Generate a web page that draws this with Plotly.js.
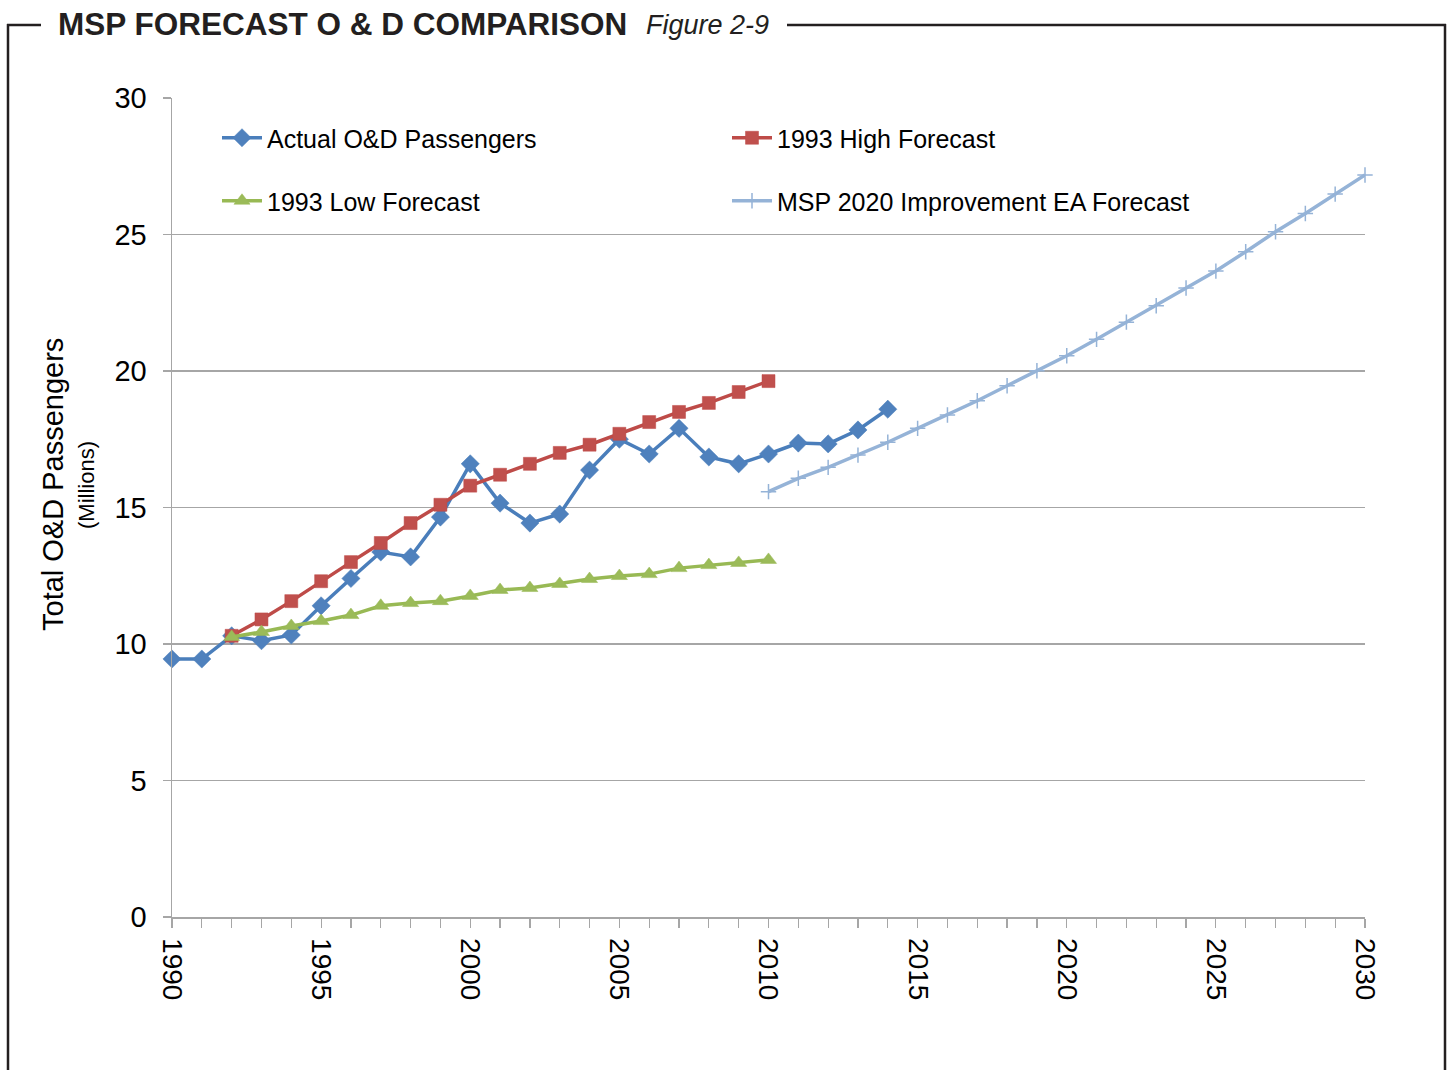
<!DOCTYPE html>
<html>
<head>
<meta charset="utf-8">
<script src="https://cdn.plot.ly/plotly-3.0.1.min.js"></script>
<style>
  html, body { margin: 0; padding: 0; background: #ffffff; }
  #chart { width: 1450px; height: 1070px; }
</style>
</head>
<body>
<div id="chart"></div>
<script>
// ---- Data ----
const actualYears = [1990,1991,1992,1993,1994,1995,1996,1997,1998,1999,2000,2001,2002,2003,2004,2005,2006,2007,2008,2009,2010,2011,2012,2013,2014];
const actualValues = [9.45,9.45,10.3,10.12,10.33,11.4,12.4,13.37,13.19,14.65,16.6,15.16,14.43,14.76,16.37,17.5,16.96,17.9,16.85,16.6,16.96,17.36,17.33,17.84,18.6];

const forecastYears = [1992,1993,1994,1995,1996,1997,1998,1999,2000,2001,2002,2003,2004,2005,2006,2007,2008,2009,2010];
const highValues = [10.3,10.9,11.57,12.3,13.0,13.7,14.43,15.1,15.8,16.2,16.6,17.0,17.3,17.7,18.13,18.5,18.83,19.23,19.63];
const lowValues  = [10.26,10.44,10.66,10.84,11.06,11.4,11.5,11.57,11.76,11.98,12.05,12.2,12.38,12.49,12.56,12.78,12.89,12.97,13.08];

const eaYears = [2010,2011,2012,2013,2014,2015,2016,2017,2018,2019,2020,2021,2022,2023,2024,2025,2026,2027,2028,2029,2030];
const eaValues = [15.58,16.07,16.47,16.92,17.39,17.9,18.39,18.91,19.46,20.01,20.56,21.16,21.79,22.39,23.04,23.66,24.37,25.1,25.77,26.48,27.18];

const seriesNames = ["Actual O&D Passengers", "1993 High Forecast", "1993 Low Forecast", "MSP 2020 Improvement EA Forecast"];
const yTickValues = [0,5,10,15,20,25,30];
const chartTitle = "MSP FORECAST O & D COMPARISON";
const figureLabel = "Figure 2-9";
const yTitleMain = "Total O&D Passengers";
const yTitleSub = "(Millions)";

// ---- Layout geometry (pixels) ----
const W = 1450, H = 1070;
const L = 172, R = 1365, T = 98, B = 917;
const px = x => (x - L) / (R - L);          // pixel x -> paper x
const py = y => (B - y) / (B - T);          // pixel y -> paper y

const FONT = "Liberation Sans, Arial, sans-serif";

const traces = [
  {
    x: actualYears, y: actualValues, name: seriesNames[0], type: "scatter", mode: "lines+markers",
    line: { color: "#4A7EBB", width: 3.5 },
    marker: { symbol: "diamond", size: 14, color: "#4F81BD", line: { color: "#4A7EBB", width: 0.5 } },
    cliponaxis: false, legend: "legend"
  },
  {
    x: forecastYears, y: highValues, name: seriesNames[1], type: "scatter", mode: "lines+markers",
    line: { color: "#BE4B48", width: 3.5 },
    marker: { symbol: "square", size: 13, color: "#C0504D", line: { color: "#BE4B48", width: 0.5 } },
    cliponaxis: false, legend: "legend"
  },
  {
    x: forecastYears, y: lowValues, name: seriesNames[2], type: "scatter", mode: "lines+markers",
    line: { color: "#98B954", width: 3.5 },
    marker: { symbol: "triangle-up", size: 14, color: "#9BBB59", line: { color: "#98B954", width: 0.5 } },
    cliponaxis: false, legend: "legend2"
  },
  {
    x: eaYears, y: eaValues, name: seriesNames[3], type: "scatter", mode: "lines+markers",
    line: { color: "#95B3D7", width: 3.5 },
    marker: { symbol: "cross-thin", size: 11, color: "#95B3D7", line: { color: "#95B3D7", width: 1.5 } },
    cliponaxis: false, legend: "legend2"
  }
];

const frame = { color: "#231F20", width: 2.5 };
const layout = {
  width: W, height: H,
  paper_bgcolor: "#ffffff", plot_bgcolor: "#ffffff",
  margin: { l: L, r: W - R, t: T, b: H - B, pad: 0 },
  font: { family: FONT, color: "#000000", size: 25 },
  showlegend: true,
  xaxis: {
    range: [1990, 2030], dtick: 5, tick0: 1990, tickangle: 90,
    showgrid: false, zeroline: false,
    showline: true, linecolor: "#A6A6A6", linewidth: 1.5,
    ticks: "outside", ticklen: 9, tickcolor: "#A6A6A6", tickwidth: 1.2,
    minor: { dtick: 1, ticks: "outside", ticklen: 9, tickcolor: "#A6A6A6", tickwidth: 1.2, showgrid: false },
    tickfont: { family: FONT, size: 28, color: "#000" },
    ticklabelstandoff: 5,
    fixedrange: true
  },
  yaxis: {
    range: [0, 30], tickvals: yTickValues,
    showgrid: true, gridcolor: "#A6A6A6", gridwidth: 1.2,
    zeroline: false, showline: true, linecolor: "#A6A6A6", linewidth: 1.5,
    ticks: "outside", ticklen: 8, tickcolor: "#A6A6A6", tickwidth: 1.2,
    tickfont: { family: FONT, size: 29, color: "#000" },
    ticklabelstandoff: 10,
    fixedrange: true
  },
  legend: {
    orientation: "h", x: px(217), xanchor: "left", y: py(138), yanchor: "middle",
    entrywidth: 455, entrywidthmode: "pixels", itemwidth: 40,
    font: { family: FONT, size: 25, color: "#000" }, bgcolor: "rgba(0,0,0,0)",
    traceorder: "normal"
  },
  legend2: {
    orientation: "h", x: px(217), xanchor: "left", y: py(201), yanchor: "middle",
    entrywidth: 455, entrywidthmode: "pixels", itemwidth: 40,
    font: { family: FONT, size: 25, color: "#000" }, bgcolor: "rgba(0,0,0,0)",
    traceorder: "normal"
  },
  annotations: [
    { text: "<b>" + chartTitle + "</b>", xref: "paper", yref: "paper", x: px(56), y: py(24),
      xanchor: "left", yanchor: "middle", showarrow: false,
      font: { family: FONT, size: 31.5, color: "#231F20" } },
    { text: "<i>" + figureLabel + "</i>", xref: "paper", yref: "paper", x: px(644), y: py(25),
      xanchor: "left", yanchor: "middle", showarrow: false,
      font: { family: FONT, size: 27, color: "#231F20" } },
    { text: yTitleMain, xref: "paper", yref: "paper", x: px(53), y: py(485),
      xanchor: "center", yanchor: "middle", textangle: -90, showarrow: false,
      font: { family: FONT, size: 29, color: "#000" } },
    { text: yTitleSub, xref: "paper", yref: "paper", x: px(86), y: py(485),
      xanchor: "center", yanchor: "middle", textangle: -90, showarrow: false,
      font: { family: FONT, size: 22, color: "#000" } }
  ],
  shapes: [
    { type: "line", xref: "paper", yref: "paper", x0: px(8), x1: px(8), y0: py(24), y1: py(1080), line: frame },
    { type: "line", xref: "paper", yref: "paper", x0: px(7), x1: px(41), y0: py(25), y1: py(25), line: frame },
    { type: "line", xref: "paper", yref: "paper", x0: px(787), x1: px(1446), y0: py(25), y1: py(25), line: frame },
    { type: "line", xref: "paper", yref: "paper", x0: px(1445), x1: px(1445), y0: py(24), y1: py(1080), line: frame }
  ]
};

Plotly.newPlot("chart", traces, layout, { displayModeBar: false, staticPlot: true });
</script>
</body>
</html>
